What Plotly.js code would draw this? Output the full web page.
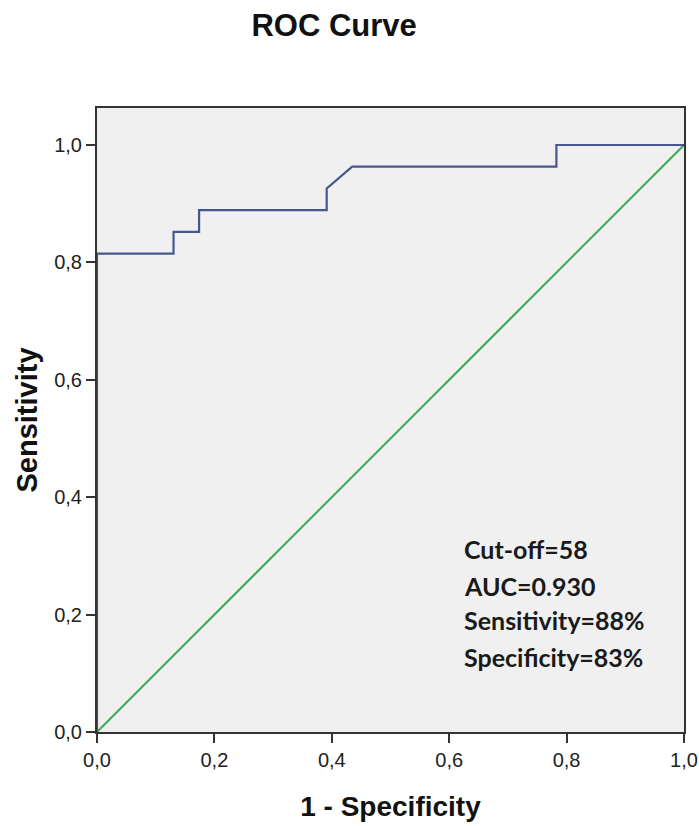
<!DOCTYPE html>
<html>
<head>
<meta charset="utf-8">
<script src="https://cdn.plot.ly/plotly-3.0.1.min.js"></script>
<style>html,body{margin:0;padding:0;background:#fff;}#chart{width:699px;height:826px;}</style>
</head>
<body>
<div id="chart"></div>
<script>
// ROC curve points (1 - Specificity, Sensitivity)
var fpr = [0, 0, 0.1304, 0.1304, 0.1739, 0.1739, 0.3913, 0.3913, 0.4348, 0.7826, 0.7826, 1];
var tpr = [0, 0.8148, 0.8148, 0.8519, 0.8519, 0.8889, 0.8889, 0.9259, 0.9630, 0.9630, 1, 1];
// Reference line
var refX = [0, 1];
var refY = [0, 1];
// Tick values
var tickVals = [0, 0.2, 0.4, 0.6, 0.8, 1.0];
// Annotation lines
var statLines = ["Cut-off=58", "AUC=0.930", "Sensitivity=88%", "Specificity=83%"];
var statY = [0.312, 0.249, 0.191, 0.128];

var traces = [
  {x: refX, y: refY, mode: 'lines', line: {color: '#3aaa5a', width: 2}, hoverinfo: 'skip', showlegend: false},
  {x: fpr, y: tpr, mode: 'lines', line: {color: '#46578f', width: 2.2}, showlegend: false}
];

var annotations = statLines.map(function (t, i) {
  return {
    text: '<b>' + t + '</b>', x: 0.622, y: statY[i], xref: 'x', yref: 'y',
    xanchor: 'left', yanchor: 'middle', showarrow: false,
    font: {family: 'Lato, "Noto Sans", sans-serif', size: 25, color: '#1a1a1a'}
  };
});

var axisCommon = {
  showgrid: false, zeroline: false,
  showline: true, linecolor: '#333333', linewidth: 2, mirror: true,
  ticks: 'outside', ticklen: 9, tickwidth: 2, tickcolor: '#333333',
  tickvals: tickVals, tickformat: '.1f',
  tickfont: {family: '"Liberation Sans", Arial, sans-serif', size: 20, color: '#222222'},
  fixedrange: true
};

var layout = {
  width: 699, height: 826,
  margin: {l: 97, r: 15, t: 108, b: 94},
  paper_bgcolor: '#ffffff', plot_bgcolor: '#f0f0f0',
  separators: ', ',
  title: {
    text: '<b>ROC Curve</b>', x: 0.478, xref: 'container', xanchor: 'center',
    y: 0.969, yref: 'container', yanchor: 'middle',
    font: {family: '"Liberation Sans", Arial, sans-serif', size: 31, color: '#111111'}
  },
  xaxis: Object.assign({}, axisCommon, {
    range: [0, 1],
    title: {text: '<b>1 - Specificity</b>', standoff: 26,
      font: {family: '"Liberation Sans", Arial, sans-serif', size: 28, color: '#111111'}}
  }),
  yaxis: Object.assign({}, axisCommon, {
    range: [0, 1.063],
    title: {text: '<b>Sensitivity</b>', standoff: 8,
      font: {family: '"Liberation Sans", Arial, sans-serif', size: 29, color: '#111111'}}
  }),
  annotations: annotations
};

Plotly.newPlot('chart', traces, layout, {displayModeBar: false, staticPlot: true});
</script>
</body>
</html>
